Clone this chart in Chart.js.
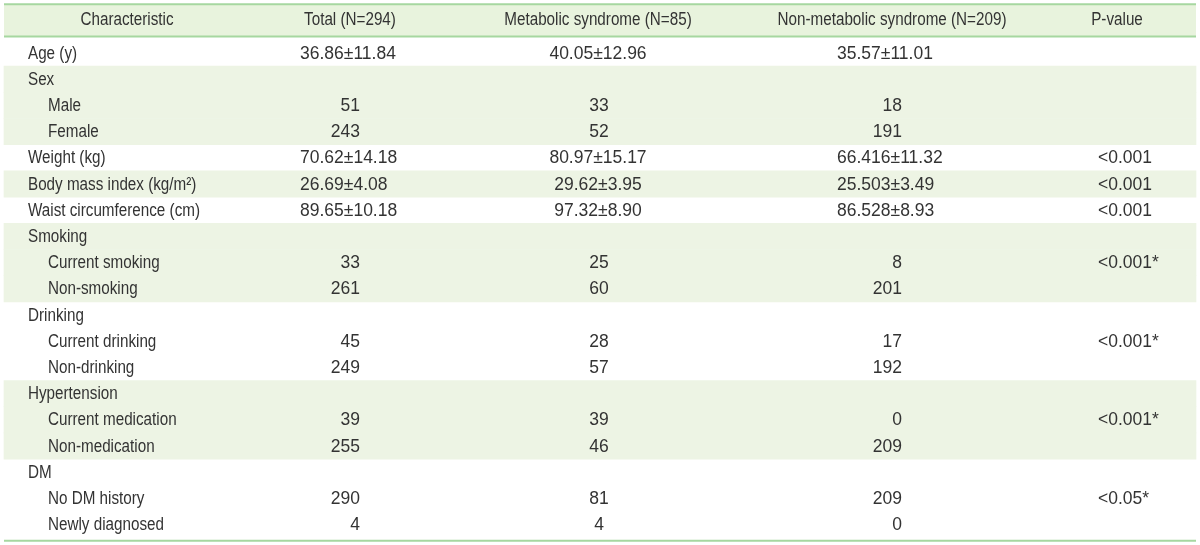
<!DOCTYPE html>
<html>
<head>
<meta charset="utf-8">
<script src="https://cdn.jsdelivr.net/npm/chart.js@4/dist/chart.umd.min.js"></script>
<style>
	html,body{margin:0;padding:0;background:#fff;}
	#tbl{display:block;}
</style>
</head>
<body>
<canvas id="tbl" width="1200" height="545"></canvas>
<script>
// Table data
const columnHeaders = ['Characteristic','Total (N=294)','Metabolic syndrome (N=85)','Non-metabolic syndrome (N=209)','P-value'];
const rowLabels = ['Age (y)','Sex','Male','Female','Weight (kg)','Body mass index (kg/m²)','Waist circumference (cm)','Smoking','Current smoking','Non-smoking','Drinking','Current drinking','Non-drinking','Hypertension','Current medication','Non-medication','DM','No DM history','Newly diagnosed'];
const rowLevels = [0,0,1,1,0,0,0,0,1,1,0,1,1,0,1,1,0,1,1];
const totalValues = ['36.86±11.84','','51','243','70.62±14.18','26.69±4.08','89.65±10.18','','33','261','','45','249','','39','255','','290','4'];
const metabolicValues = ['40.05±12.96','','33','52','80.97±15.17','29.62±3.95','97.32±8.90','','25','60','','28','57','','39','46','','81','4'];
const nonMetabolicValues = ['35.57±11.01','','18','191','66.416±11.32','25.503±3.49','86.528±8.93','','8','201','','17','192','','0','209','','209','0'];
const pValues = ['','','','','<0.001','<0.001','<0.001','','<0.001*','','','<0.001*','','','<0.001*','','','<0.05*',''];

(function(){
	const c = document.getElementById('tbl');

	const GREEN_HEAD = '#e8f3dd', GREEN_ROW = '#edf4e4', LINE = '#a6d7a0', TEXT = '#333';
	const FONT = '17.5px "Liberation Sans", Arial, sans-serif';
	const NARROW = 0.87; // labels are set in a condensed face
	const L = 4, R = 1196;

	// alternate shading per top-level group
	let g = -1;
	const bands = rowLevels.map(lv => { if(lv===0) g++; return g%2===1 ? [L,R] : null; });

	// column anchors: [x for mean±sd / p, align], [x for counts, align]
	const cols = [
		{ vals: totalValues, mean:[300,'left'], count:[360,'right'] },
		{ vals: metabolicValues, mean:[598,'center'], count:[599,'center'] },
		{ vals: nonMetabolicValues, mean:[837,'left'], count:[902,'right'] },
		{ vals: pValues, mean:[1098,'left'], count:[1098,'left'] }
	];
	const headerX = [127,350,598,892,1117];

	function txt(k, s, px, py, align, sx){
		k.save(); k.translate(px, py); k.scale(sx, 1);
		k.textAlign = align; k.fillText(s, 0, 0);
		k.restore();
	}

	const tablePlugin = {
		id:'tableText',
		beforeDatasetsDraw(chart){
			const x = chart.scales.x, k = chart.ctx;
			k.save();
			k.fillStyle = GREEN_HEAD;
			k.fillRect(x.getPixelForValue(L), 4, x.getPixelForValue(R)-x.getPixelForValue(L), 32);
			k.restore();
		},
		afterDatasetsDraw(chart){
			const x = chart.scales.x, y = chart.scales.y, a = chart.chartArea, k = chart.ctx;
			const xl = x.getPixelForValue(L), xr = x.getPixelForValue(R);
			k.save();
			k.strokeStyle = LINE; k.lineWidth = 2;
			[4.3, 36.5, a.bottom+3].forEach(yy => { k.beginPath(); k.moveTo(xl,yy); k.lineTo(xr,yy); k.stroke(); });

			k.fillStyle = TEXT; k.textBaseline = 'middle'; k.font = FONT;
			columnHeaders.forEach((h,i) => txt(k, h, x.getPixelForValue(headerX[i]), 20.5, 'center', NARROW));

			rowLabels.forEach((lab,i) => {
				const yy = y.getPixelForValue(i) + 0.8;
				txt(k, lab, x.getPixelForValue(rowLevels[i] ? 48 : 28), yy, 'left', NARROW);
				cols.forEach(col => {
					const v = col.vals[i];
					if(!v) return;
					const anc = v.indexOf('±')>=0 || v[0]==='<' ? col.mean : col.count;
					txt(k, v, x.getPixelForValue(anc[0]), yy, anc[1], 1);
				});
			});
			k.restore();
		}
	};

	new Chart(c, {
		type:'bar',
		data:{ labels: rowLabels, datasets:[{ data: bands, backgroundColor: GREEN_ROW, borderWidth:0, categoryPercentage:1, barPercentage:1 }] },
		options:{
			indexAxis:'y', responsive:false, animation:false, devicePixelRatio:1,
			layout:{ padding:{ top:39.9, bottom:7.3, left:0, right:0 } },
			plugins:{ legend:{display:false}, tooltip:{enabled:false} },
			scales:{
				x:{ type:'linear', min:0, max:1200, display:false },
				y:{ type:'category', display:false, grid:{display:false} }
			}
		},
		plugins:[tablePlugin]
	});
})();
</script>
</body>
</html>
